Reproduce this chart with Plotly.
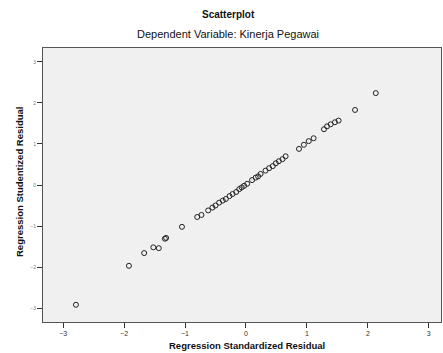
import plotly.graph_objects as go

std_resid = [-2.79, -1.92, -1.67, -1.52, -1.43, -1.33, -1.31, -1.05, -0.80, -0.73, -0.62, -0.55,
             -0.50, -0.44, -0.38, -0.33, -0.27, -0.22, -0.16, -0.11, -0.07, -0.03, 0.02, 0.10,
             0.16, 0.20, 0.24, 0.32, 0.38, 0.44, 0.49, 0.54, 0.60, 0.65, 0.87, 0.95, 1.03, 1.11,
             1.28, 1.33, 1.39, 1.46, 1.52, 1.79, 2.13]
stud_resid = [-2.92, -1.97, -1.66, -1.52, -1.54, -1.31, -1.29, -1.02, -0.78, -0.73, -0.62, -0.55,
              -0.50, -0.43, -0.38, -0.34, -0.27, -0.22, -0.17, -0.10, -0.06, -0.02, 0.03, 0.12,
              0.18, 0.21, 0.27, 0.35, 0.41, 0.46, 0.53, 0.58, 0.63, 0.70, 0.88, 0.98, 1.07, 1.14,
              1.36, 1.43, 1.48, 1.53, 1.57, 1.83, 2.24]
tick_vals = [-3, -2, -1, 0, 1, 2, 3]

fig = go.Figure(go.Scatter(
    x=std_resid, y=stud_resid, mode="markers",
    marker=dict(symbol="circle-open", size=5, color="#222", line=dict(width=1, color="#222")),
))

W, H = 443, 353
L, R, T, B = 43, 2, 48, 31
pw, ph = W - L - R, H - T - B

def px2paper(px, py):
    return (px - L) / pw, (H - B - py) / ph

font = "Liberation Sans, Arial, sans-serif"
annots = []
for text, px, py, size, ang in [
    ("<b>Scatterplot</b>", 228, 15, 10, 0),
    ("Dependent Variable: Kinerja Pegawai", 228, 34, 11, 0),
    ("<b>Regression Standardized Residual</b>", 247, 345, 9.5, 0),
    ("<b>Regression Studentized Residual</b>", 19, 182, 9.5, -90),
]:
    xp, yp = px2paper(px, py)
    annots.append(dict(text=text, x=xp, y=yp, xref="paper", yref="paper", showarrow=False,
                       xanchor="center", yanchor="middle", textangle=ang,
                       font=dict(size=size, color="#111")))

fig.update_layout(
    width=W, height=H,
    margin=dict(l=L, r=R, t=T, b=B),
    paper_bgcolor="white", plot_bgcolor="#f0f0f0",
    showlegend=False,
    font=dict(family=font, color="#111"),
    annotations=annots,
)

fig.update_xaxes(
    range=[-3.33, 3.2], tickvals=tick_vals, ticks="outside", ticklen=5, tickcolor="#333",
    showgrid=False, zeroline=False, showline=True, linecolor="#555", linewidth=1, mirror=True,
    tickfont=dict(size=7, color="#333"),
)
fig.update_yaxes(
    range=[-3.34, 3.34], tickvals=tick_vals, ticks="outside", ticklen=5, tickcolor="#333",
    showgrid=False, zeroline=False, showline=True, linecolor="#555", linewidth=1, mirror=True,
    tickfont=dict(size=5, color="#777"),
)

fig.write_html("out.html", config={"displayModeBar": False},
               post_script="document.body.style.margin='0';document.body.style.overflow='hidden';")
